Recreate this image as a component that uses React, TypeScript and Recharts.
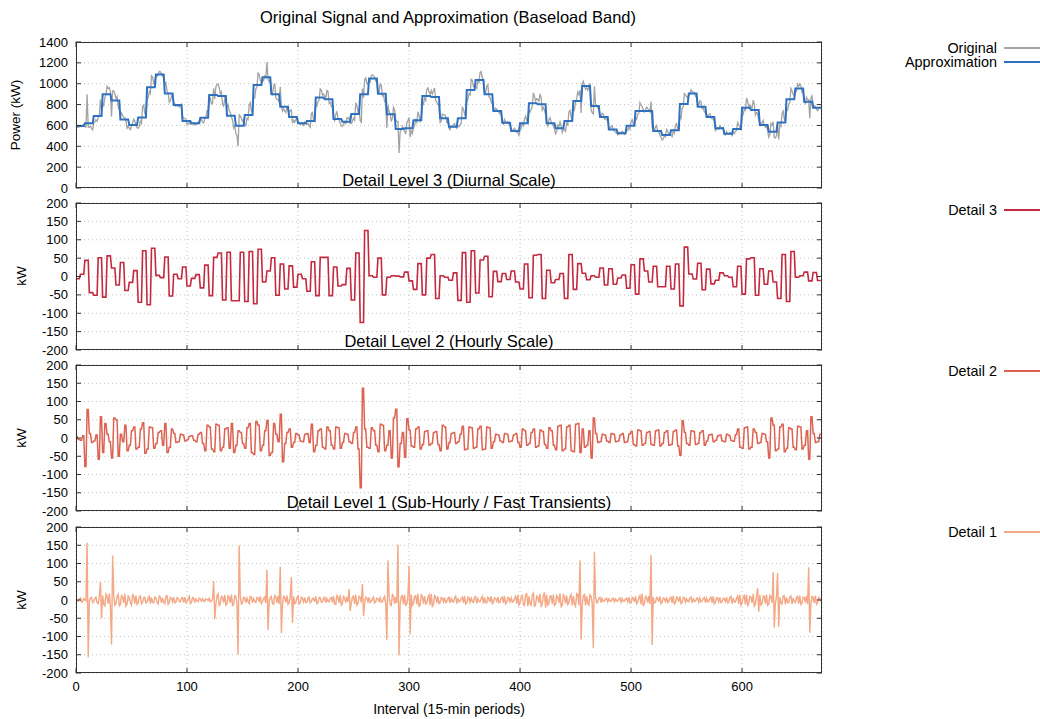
import React from 'react';
import { LineChart, Line, XAxis, YAxis, CartesianGrid } from 'recharts';

// Approximation level (one value per 8 intervals)
const approxLevels = [
  594, 620, 690, 898, 840, 658, 604, 677, 965, 1089,
  907, 796, 642, 620, 674, 891, 882, 693, 597, 700,
  987, 1061, 898, 780, 680, 620, 642, 869, 850, 661,
  636, 709, 898, 1051, 904, 706, 565, 572, 649, 882,
  872, 668, 588, 668, 939, 1035, 898, 738, 626, 546,
  620, 812, 802, 620, 572, 642, 834, 978, 786, 680,
  562, 524, 597, 738, 738, 546, 508, 553, 805, 907,
  780, 680, 572, 521, 565, 770, 748, 604, 540, 629,
  850, 955, 827, 770,
];

// Detail 3 (one coefficient per 8 intervals: +c for 4, -c for 4)
const detail3Coef = [
  -6, 44, -51, -56, 23, 38, -16, -70, -77, 3,
  53, 6, 26, -5, -31, -52, 64, 66, -66, -68,
  -74, -15, 51, 34, 29, 6, -40, -52, 52, 26,
  -22, -64, -125, 2, 50, -2, 1, 12, -35, -50,
  60, 2, -10, -65, -70, -45, 55, 14, 8, 15,
  -34, -58, 60, 17, -8, -60, -35, 9, 2, 23,
  21, -4, -32, -48, 15, 28, -28, -34, -80, 7,
  36, 20, -10, 2, -28, -48, 51, 21, 15, -60,
  -68, -2, 12, 11,
];

// Detail 2 (one coefficient per 4 intervals: +c for 2, -c for 2)
const detail2Coef = [
  4, -6, -78, 12, -8, -58, -40, 10, -55, 50,
  10, 35, -20, 30, -25, 42, -30, 28, -15, 20,
  40, -25, 12, -10, 8, -5, 6, -10, 15, -35,
  30, -38, 35, -25, 28, 40, -20, 15, -28, 40,
  -45, 35, -20, 48, -40, 10, 65, -15, 25, -12,
  8, -10, 12, 38, -20, 25, -30, 20, -30, 28,
  -12, 10, -15, 30, -136, 25, -28, 20, -38, 35,
  -20, -55, 79, -15, -53, 22, -25, 30, -18, 20,
  -15, 18, -35, 30, -12, 15, -10, 32, -30, 28,
  -25, 32, -30, 28, -10, 8, -12, 10, -8, 12,
  -25, 20, -15, 25, -22, 18, -28, 20, -32, 35,
  -30, 35, -38, 40, 25, -20, -55, 12, -10, 8,
  -12, 10, -8, 12, -10, 18, -22, 20, -15, 18,
  -20, 22, -15, 20, -18, 22, -47, 15, -20, 18,
  -15, 20, -8, 10, -6, 8, -10, 7, -9, 25,
  -28, 30, -25, 15, -12, 10, -55, 35, -30, 38,
  -28, 25, -32, 30, -20, -58, 12, -10,
];

// Detail 1 (one coefficient per 2 intervals: +c, -c)
const detail1Coef = [
  4, -3, 6, -4, 2, 157, -6, 7, -4, 8,
  -10, 50, 12, -16, 10, 18, -122, 14, -10, 16,
  -12, 8, 17, -11, 7, -14, 10, 12, -8, 11,
  -7, 8, -6, 10, 7, -8, 6, -11, 8, 6,
  -10, 12, -7, 5, 8, -6, 4, -5, 7, 8,
  -4, 10, -7, 5, 3, -5, 3, 4, -3, 2,
  5, -3, 52, -12, 17, -10, 7, 14, -11, 8,
  15, -12, 10, -150, 11, -8, 7, 5, -10, 8,
  4, -7, 6, 10, -5, 8, 83, -7, 10, -12,
  8, 11, 91, -10, 7, 12, -8, 63, 10, -7,
  11, -8, 5, 7, -6, 8, -4, 5, 10, -7,
  6, -5, 8, 4, -5, 7, 11, -12, 8, 14,
  -10, 7, 5, 30, -8, 11, 14, -10, 7, 44,
  -8, 5, 7, -4, 8, -5, 4, 6, -5, 10,
  -109, 12, -15, 11, 8, 152, -10, 12, 14, -11,
  94, 15, -10, 12, 17, -14, 10, 11, -8, 14,
  17, -12, 8, 10, -7, 5, 7, -5, 8, 4,
  -6, 10, 5, -4, 8, 11, -8, 6, 5, -7,
  9, 4, -5, 10, 7, -8, 5, 10, -6, 4,
  8, -5, 8, 11, -7, 5, 6, -4, 10, 14,
  -8, 12, -15, 17, 10, -14, 19, -11, 8, 17,
  -12, 21, 14, -10, 11, 15, -12, 8, 18, -14,
  10, 12, -8, 15, 11, -17, 14, 109, -12, 15,
  11, -14, 10, -132, 8, -5, 7, 4, -3, 5,
  3, -4, 5, 3, -3, 6, 4, -3, 5, 8,
  -7, 5, 10, -6, 12, 17, -10, 7, 11, 123,
  8, -7, 5, 10, -6, 4, 7, -5, 8, 11,
  -8, 5, 10, -7, 6, 4, -5, 8, 3, -4,
  6, 5, -3, 7, 5, -4, 8, 10, -6, 5,
  7, -5, 4, 8, -7, 10, 6, -5, 11, 14,
  -8, 12, 15, -10, 8, 17, -12, 32, 14, -11,
  10, 15, -12, 8, 76, -10, 73, 8, -11, 12,
  7, -8, 11, 5, -7, 10, 12, -8, 7, 11,
  90, -10, 8, 12, -7, 5,
];

const xTicks = [0, 100, 200, 300, 400, 500, 600];
const powerTicks = [0, 200, 400, 600, 800, 1000, 1200, 1400];
const detailTicks = [-200, -150, -100, -50, 0, 50, 100, 150, 200];

const N = 672;
const rows: any[] = [];
for (let i = 0; i < N; i++) {
  const a = approxLevels[Math.floor(i / 8)] ?? 0;
  const p = detail3Coef[Math.floor(i / 8)] ?? 0;
  const d3 = i % 8 < 4 ? p : -p;
  const q = detail2Coef[Math.floor(i / 4)] ?? 0;
  const d2 = i % 4 < 2 ? q : -q;
  const r = detail1Coef[Math.floor(i / 2)] ?? 0;
  const d1 = i % 2 === 0 ? r : -r;
  rows.push({ t: i, original: a + d3 + d2 + d1, approx: a, d3, d2, d1 });
}

const FONT = '"Liberation Sans", Arial, Helvetica, sans-serif';
const AXIS = '#333';
const W = 1040;
const PLOT_L = 76;
const PLOT_R = 822;

const noTick = () => <g />;

type LineSpec = { key: string; color: string; width: number };

function Panel(props: {
  plotTop: number;
  plotH: number;
  domain: [number, number];
  ticks: number[];
  lines: LineSpec[];
  showX: boolean;
}) {
  const { plotTop, plotH, domain, ticks, lines, showX } = props;
  const bottomH = showX ? 36 : 1;
  const height = 10 + plotH + bottomH + 9;
  return (
    <div style={{ position: 'absolute', left: 0, top: plotTop - 10, width: W, height }}>
      <LineChart
        width={W}
        height={height}
        data={rows}
        margin={{ top: 9, right: W - PLOT_R - 1, bottom: 9, left: 0 }}
      >
        <CartesianGrid stroke="#c4c4c4" strokeDasharray="1 3" strokeWidth={1} />
        <XAxis
          dataKey="t"
          type="number"
          domain={[0, N]}
          ticks={xTicks}
          allowDataOverflow
          height={bottomH}
          tickSize={-5}
          tickMargin={14}
          axisLine={false}
          tickLine={{ stroke: AXIS }}
          tick={showX ? { fill: '#000', fontSize: 13, fontFamily: FONT } : noTick}
          interval={0}
        />
        <XAxis
          xAxisId="top"
          orientation="top"
          dataKey="t"
          type="number"
          domain={[0, N]}
          ticks={xTicks}
          allowDataOverflow
          height={1}
          tickSize={-5}
          axisLine={false}
          tickLine={{ stroke: AXIS }}
          tick={noTick}
          interval={0}
        />
        <YAxis
          type="number"
          domain={domain}
          ticks={ticks}
          allowDataOverflow
          width={PLOT_L}
          tickSize={-5}
          tickMargin={13}
          axisLine={false}
          tickLine={{ stroke: AXIS }}
          tick={{ fill: '#000', fontSize: 13, fontFamily: FONT }}
          interval={0}
        />
        <YAxis
          yAxisId="right"
          orientation="right"
          type="number"
          domain={domain}
          ticks={ticks}
          allowDataOverflow
          width={1}
          tickSize={-5}
          axisLine={false}
          tickLine={{ stroke: AXIS }}
          tick={noTick}
          interval={0}
        />
        {lines.map((l) => (
          <Line
            key={l.key}
            dataKey={l.key}
            type="linear"
            stroke={l.color}
            strokeWidth={l.width}
            dot={false}
            activeDot={false}
            isAnimationActive={false}
          />
        ))}
      </LineChart>
      <div
        style={{
          position: 'absolute',
          left: PLOT_L,
          top: 10,
          width: PLOT_R - PLOT_L,
          height: plotH,
          border: `1px solid ${AXIS}`,
          boxSizing: 'border-box',
          pointerEvents: 'none',
        }}
      />
    </div>
  );
}

const textBase: React.CSSProperties = {
  position: 'absolute',
  fontFamily: FONT,
  color: '#000',
  whiteSpace: 'nowrap',
  lineHeight: 1,
};

function Centered({ x, y, size, children }: { x: number; y: number; size: number; children: React.ReactNode }) {
  return (
    <div style={{ ...textBase, left: x, top: y, fontSize: size, transform: 'translate(-50%, -50%)' }}>{children}</div>
  );
}

function VLabel({ x, y, children }: { x: number; y: number; children: React.ReactNode }) {
  return (
    <div
      style={{
        ...textBase,
        left: x,
        top: y,
        fontSize: 13.5,
        transform: 'translate(-50%, -50%) rotate(-90deg)',
      }}
    >
      {children}
    </div>
  );
}

function LegendItem({ y, label, color, width }: { y: number; label: string; color: string; width: number }) {
  return (
    <>
      <div style={{ ...textBase, right: W - 997, top: y, fontSize: 14.4, transform: 'translateY(-50%)' }}>{label}</div>
      <div
        style={{
          position: 'absolute',
          left: 1004,
          width: 36,
          top: y - width / 2,
          height: width,
          background: color,
        }}
      />
    </>
  );
}

const GRAY = '#a3a3a3';
const BLUE = '#2f70bf';
const RED3 = '#c4293f';
const RED2 = '#dc6352';
const RED1 = '#f4a886';

export default function App() {
  return (
    <div style={{ position: 'absolute', left: 0, top: 0, width: W, height: 719, background: '#fff', overflow: 'hidden' }}>
      <Panel
        plotTop={42}
        plotH={146}
        domain={[0, 1400]}
        ticks={powerTicks}
        lines={[
          { key: 'original', color: GRAY, width: 1.3 },
          { key: 'approx', color: BLUE, width: 2 },
        ]}
        showX={false}
      />
      <Panel plotTop={203} plotH={147} domain={[-200, 200]} ticks={detailTicks} lines={[{ key: 'd3', color: RED3, width: 1.6 }]} showX={false} />
      <Panel plotTop={365} plotH={146} domain={[-200, 200]} ticks={detailTicks} lines={[{ key: 'd2', color: RED2, width: 1.5 }]} showX={false} />
      <Panel plotTop={527} plotH={146} domain={[-200, 200]} ticks={detailTicks} lines={[{ key: 'd1', color: RED1, width: 1.4 }]} showX={true} />

      <Centered x={448} y={17} size={16.5}>Original Signal and Approximation (Baseload Band)</Centered>
      <Centered x={449} y={180} size={16.5}>Detail Level 3 (Diurnal Scale)</Centered>
      <Centered x={449} y={341} size={16.5}>Detail Level 2 (Hourly Scale)</Centered>
      <Centered x={449} y={502} size={16.5}>Detail Level 1 (Sub-Hourly / Fast Transients)</Centered>
      <Centered x={449} y={709} size={14}>Interval (15-min periods)</Centered>

      <VLabel x={16} y={115}>Power (kW)</VLabel>
      <VLabel x={22} y={276}>kW</VLabel>
      <VLabel x={22} y={438}>kW</VLabel>
      <VLabel x={22} y={600}>kW</VLabel>

      <LegendItem y={48} label="Original" color={GRAY} width={1.5} />
      <LegendItem y={62} label="Approximation" color={BLUE} width={2} />
      <LegendItem y={210} label="Detail 3" color={RED3} width={1.6} />
      <LegendItem y={371} label="Detail 2" color={RED2} width={1.5} />
      <LegendItem y={532} label="Detail 1" color={RED1} width={1.5} />
    </div>
  );
}
